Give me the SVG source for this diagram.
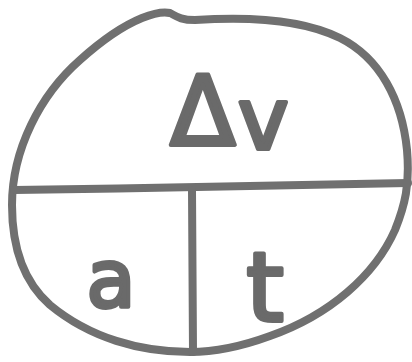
<svg xmlns="http://www.w3.org/2000/svg" width="412" height="362" viewBox="0 0 412 362">
<style>
.ink{fill:none;stroke:#707070;stroke-width:8;stroke-linecap:round;stroke-linejoin:round}
.lbl{font-family:"DejaVu Sans",sans-serif;fill:#6a6a6a;stroke:#6a6a6a;stroke-width:4;stroke-linejoin:round}
</style>
<rect width="412" height="362" fill="#fff"/>
<g id="outline">
<path class="ink" d="M142,18 C152,14 162,11 170,13 C176,16 180,20 195,20 C240,17 300,18 340,38 C380,58 402,100 407,150 C410,185 405,205 395,230 C375,275 330,315 270,336 C240,347 215,352 190,352 C140,352 90,338 50,305 C25,283 12,250 12,205 C12,150 40,95 80,60 C100,42 120,27 142,18 Z"/>
</g>
<g id="connectors">
<path class="ink" d="M14,190 C150,188 300,186 408,183"/>
<path class="ink" d="M192,190 L193,352"/>
</g>
<g id="node-dv"><text class="lbl" x="170" y="145"><tspan font-size="96">Δ</tspan><tspan font-size="86" dx="2" dy="4">v</tspan></text></g>
<g id="node-a"><text class="lbl" x="111" y="307" font-size="80" text-anchor="middle">a</text></g>
<g id="node-t"><text class="lbl" x="265" y="321" font-size="96" text-anchor="middle">t</text></g>
</svg>
